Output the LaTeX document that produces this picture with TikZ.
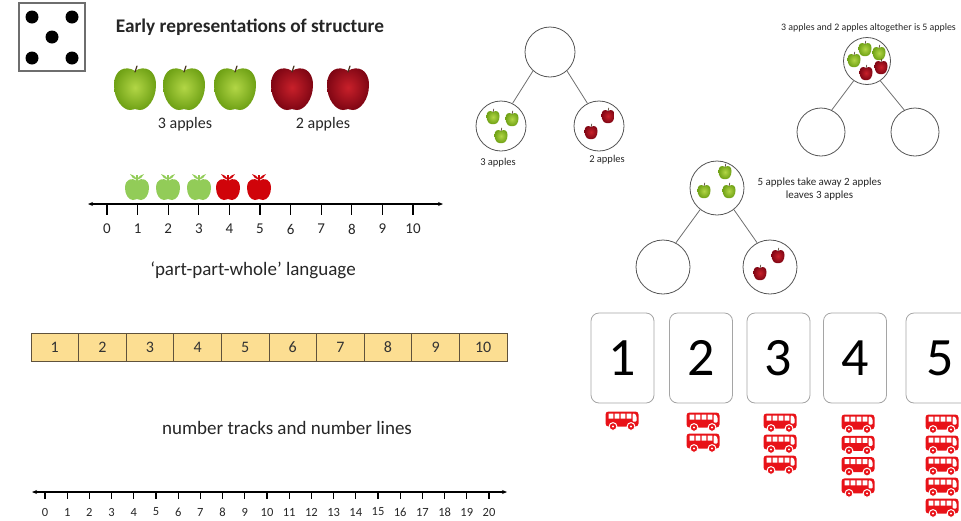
\documentclass[tikz,border=0pt]{standalone}
\usepackage{fontspec}
\setmainfont{Carlito}
\usetikzlibrary{arrows.meta}

\definecolor{gAin}{RGB}{178,214,70}
\definecolor{gAout}{RGB}{112,162,22}
\definecolor{rAin}{RGB}{200,32,42}
\definecolor{rAout}{RGB}{128,6,20}
\definecolor{stemc}{RGB}{70,50,30}
\definecolor{icongreen}{RGB}{146,204,88}
\definecolor{iconred}{RGB}{208,4,10}
\definecolor{busred}{RGB}{232,18,24}
\definecolor{trackfill}{RGB}{252,222,146}
\definecolor{trackline}{RGB}{95,82,60}
\definecolor{pwgray}{RGB}{85,85,85}
\definecolor{cardgray}{RGB}{165,165,165}
\definecolor{diegray}{RGB}{110,110,110}

\tikzset{
  % shaded photo-like apple
  pics/bigapple/.style 2 args={code={
    \shade[inner color=#1, outer color=#2]
      (0,-17) .. controls (9,-23) and (21,-19) .. (21,-3)
      .. controls (21,12) and (12,22) .. (5,22)
      .. controls (2,22) and (1,21) .. (0,21)
      .. controls (-1,21) and (-2,22) .. (-5,22)
      .. controls (-12,22) and (-21,12) .. (-21,-3)
      .. controls (-21,-19) and (-9,-23) .. cycle;
    \draw[stemc, line width=1.2pt, line cap=round] (0,-16) -- (2,-22);
  }},
  % small shaded apple for the part-whole circles
  pics/tinyapple/.style 2 args={code={
    \shade[inner color=#1, outer color=#2]
      (0,-5) .. controls (3,-7) and (6.5,-6) .. (6.5,-1)
      .. controls (6.5,4) and (4,7) .. (1.5,7)
      .. controls (0.7,7) and (-0.7,7) .. (-1.5,7)
      .. controls (-4,7) and (-6.5,4) .. (-6.5,-1)
      .. controls (-6.5,-6) and (-3,-7) .. cycle;
    \draw[stemc, line width=0.6pt, line cap=round] (0,-5) -- (0.8,-8);
  }},
  % flat apple icon with leaves
  pics/iconapple/.style={code={
    \fill[#1]
      (0,-7) .. controls (5,-11) and (12,-9) .. (12,0)
      .. controls (12,7) and (8,12) .. (4,12)
      .. controls (2,12) and (1,11) .. (0,11)
      .. controls (-1,11) and (-2,12) .. (-4,12)
      .. controls (-8,12) and (-12,7) .. (-12,0)
      .. controls (-12,-9) and (-5,-11) .. cycle;
    \fill[#1] (0,-8) .. controls (-2,-12) and (-4,-13.5) .. (-7,-14)
      .. controls (-6,-11) and (-3,-9) .. (0,-8);
    \fill[#1] (0,-8) .. controls (2,-12) and (4,-13.5) .. (7,-14)
      .. controls (6,-11) and (3,-9) .. (0,-8);
    \draw[#1, line width=1.1pt] (0,-7) -- (0,-13);
  }},
  % red bus icon
  pics/bus/.style={code={
    \fill[busred, rounded corners=3pt] (-16.5,-9.5) rectangle (16.5,5.5);
    \fill[white] (-13.5,-7.5) rectangle (-8.7,-2.5)
                 (-7.5,-7.5) rectangle (-2.7,-2.5)
                 (-1.5,-7.5) rectangle (3.3,-2.5)
                 (4.5,-7.5) rectangle (9.3,-2.5);
    \fill[white, rounded corners=1pt] (10.5,-7.5) -- (12.8,-7.5) -- (14.6,-4.5) -- (14.6,0.5) -- (10.5,0.5) -- cycle;
    \filldraw[fill=busred, draw=white, line width=1pt] (-9,5.5) circle[radius=3.9pt];
    \filldraw[fill=busred, draw=white, line width=1pt] (9,5.5) circle[radius=3.9pt];
    \fill[white] (-9,5.5) circle[radius=1.1pt] (9,5.5) circle[radius=1.1pt];
  }},
  pwc/.style={circle, draw=pwgray, line width=0.8pt, inner sep=0pt, fill=white},
  pwline/.style={draw=pwgray!85, line width=0.8pt},
  trackcell/.style={draw=trackline, line width=1pt, fill=trackfill, minimum width=47.6pt,
    minimum height=28pt, inner sep=0pt, font=\fontsize{16}{18}\selectfont, text=black!80},
  numcard/.style={draw=cardgray, line width=0.8pt, rounded corners=8pt, fill=white,
    minimum width=63pt, minimum height=90pt, inner sep=0pt, font=\fontsize{54}{60}\selectfont},
  nline/.style={line width=1.3pt, {Stealth[length=5pt,width=4pt]}-{Stealth[length=5pt,width=4pt]}},
  tick/.style={line width=1.3pt},
  lbl/.style={inner sep=0pt, text=black!85},
}

\begin{document}
\begin{tikzpicture}[x=1pt,y=-1pt]
\useasboundingbox (0,0) rectangle (961,520);
\clip (0,0) rectangle (961,520);

% ---- die face ----
\node[draw=diegray, line width=2pt, fill=white, minimum width=66pt, minimum height=68pt, inner sep=0pt] (die) at (52,37) {};
\foreach \dx/\dy [count=\k] in {32/17, 72/17, 52/37, 32/58, 72/58}
  \fill[black] (\dx,\dy) circle[radius=6.5pt];

% ---- heading ----
\node[lbl, font=\bfseries\fontsize{19.3}{22}\selectfont] (title) at (250,27) {Early representations of structure};

% ---- row of apples ----
\pic (ga1) at (135,88) {bigapple={gAin}{gAout}};
\pic (ga2) at (184,88) {bigapple={gAin}{gAout}};
\pic (ga3) at (235,88) {bigapple={gAin}{gAout}};
\pic (ra1) at (292,88) {bigapple={rAin}{rAout}};
\pic (ra2) at (348,88) {bigapple={rAin}{rAout}};
\node[lbl, font=\fontsize{16}{18}\selectfont] (threeapples) at (185,124) {3 apples};
\node[lbl, font=\fontsize{16}{18}\selectfont] (twoapples) at (323,124) {2 apples};

% ---- number line 0 to 10 with apples ----
\coordinate (nlA) at (88,204);
\coordinate (nlB) at (443,204);
\draw[nline] (nlA) -- (nlB);
\foreach \i in {0,...,10} {
  \draw[tick] (107+30.6*\i,204) -- (107+30.6*\i,215);
  \node[lbl, font=\fontsize{15}{17}\selectfont] (nl\i) at (107+30.6*\i,229) {\i};
}
\pic (ia1) at (137,188) {iconapple=icongreen};
\pic (ia2) at (168,188) {iconapple=icongreen};
\pic (ia3) at (199,188) {iconapple=icongreen};
\pic (ia4) at (228,188) {iconapple=iconred};
\pic (ia5) at (259,188) {iconapple=iconred};

\node[lbl, font=\fontsize{19}{22}\selectfont] (ppw) at (253,270) {‘part-part-whole’ language};

% ---- number track ----
\foreach \i in {1,...,10}
  \node[trackcell] (tc\i) at (31+47.6*\i-23.8,347) {\i};

\node[lbl, font=\fontsize{19}{22}\selectfont] (ntnl) at (287,428) {number tracks and number lines};

% ---- number line 0 to 20 ----
\coordinate (blA) at (32,492);
\coordinate (blB) at (507,492);
\draw[nline] (blA) -- (blB);
\foreach \i in {0,...,20} {
  \draw[tick] (45+22.2*\i,492) -- (45+22.2*\i,499);
  \node[lbl, font=\fontsize{12.5}{14}\selectfont] (bl\i) at (45+22.2*\i,512) {\i};
}

% ---- part-whole model: parts given ----
\node[pwc, minimum size=50pt] (pa) at (550,52) {};
\node[pwc, minimum size=50pt] (pb) at (501,126) {};
\node[pwc, minimum size=50pt] (pc) at (599,126) {};
\draw[pwline] (pa.228) -- (pb.63);
\draw[pwline] (pa.312) -- (pc.117);
\pic (pbg1) at (493,117) {tinyapple={gAin}{gAout}};
\pic (pbg2) at (512,119) {tinyapple={gAin}{gAout}};
\pic (pbg3) at (501,136) {tinyapple={gAin}{gAout}};
\pic (pcr1) at (608,116) {tinyapple={rAin}{rAout}};
\pic (pcr2) at (591,132) {tinyapple={rAin}{rAout}};
\node[lbl, font=\fontsize{10.5}{12}\selectfont] (pblab) at (498,163) {3 apples};
\node[lbl, font=\fontsize{10.5}{12}\selectfont] (pclab) at (607,160) {2 apples};

% ---- part-whole model: whole given ----
\node[lbl, font=\fontsize{9.9}{12}\selectfont, anchor=west] (qlab) at (781,28) {3 apples and 2 apples altogether is 5 apples};
\node[pwc, minimum size=47pt] (qa) at (867,61) {};
\node[pwc, minimum size=48pt] (qb) at (821,132) {};
\node[pwc, minimum size=48pt] (qc) at (915,132) {};
\draw[pwline] (qa.236) -- (qb.64);
\draw[pwline] (qa.304) -- (qc.116);
\pic (qg1) at (865,49) {tinyapple={gAin}{gAout}};
\pic (qg2) at (879,53) {tinyapple={gAin}{gAout}};
\pic (qg3) at (854,60) {tinyapple={gAin}{gAout}};
\pic (qr1) at (881,67) {tinyapple={rAin}{rAout}};
\pic (qr2) at (866,73) {tinyapple={rAin}{rAout}};

% ---- part-whole model: subtraction ----
\node[pwc, minimum size=54pt] (ra) at (717,188) {};
\node[pwc, minimum size=54pt] (rb) at (663,267) {};
\node[pwc, minimum size=54pt] (rc) at (770,267) {};
\draw[pwline] (ra.232) -- (rb.62);
\draw[pwline] (ra.308) -- (rc.118);
\pic (rg1) at (725,172) {tinyapple={gAin}{gAout}};
\pic (rg2) at (704,191) {tinyapple={gAin}{gAout}};
\pic (rg3) at (729,191) {tinyapple={gAin}{gAout}};
\pic (rr1) at (778,256) {tinyapple={rAin}{rAout}};
\pic (rr2) at (760,273) {tinyapple={rAin}{rAout}};
\node[lbl, font=\fontsize{11}{13}\selectfont, align=center] (rlab) at (819.5,189.5) {5 apples take away 2 apples\\leaves 3 apples};

% ---- number cards with buses ----
\node[numcard] (card1) at (622.5,358) {1};
\node[numcard] (card2) at (701,358) {2};
\node[numcard] (card3) at (778.5,358) {3};
\node[numcard] (card4) at (855,358) {4};
\node[numcard, minimum width=69pt] (card5) at (940.5,358) {5};

\pic (bus11) at (622,421) {bus};
\foreach \k in {1,2} \pic (bus2\k) at (703,422+21*\k-21) {bus};
\foreach \k in {1,2,3} \pic (bus3\k) at (780,423+21*\k-21) {bus};
\foreach \k in {1,...,4} \pic (bus4\k) at (858,424+21.3*\k-21.3) {bus};
\foreach \k in {1,...,5} \pic (bus5\k) at (942,424+21*\k-21) {bus};

\end{tikzpicture}
\end{document}
